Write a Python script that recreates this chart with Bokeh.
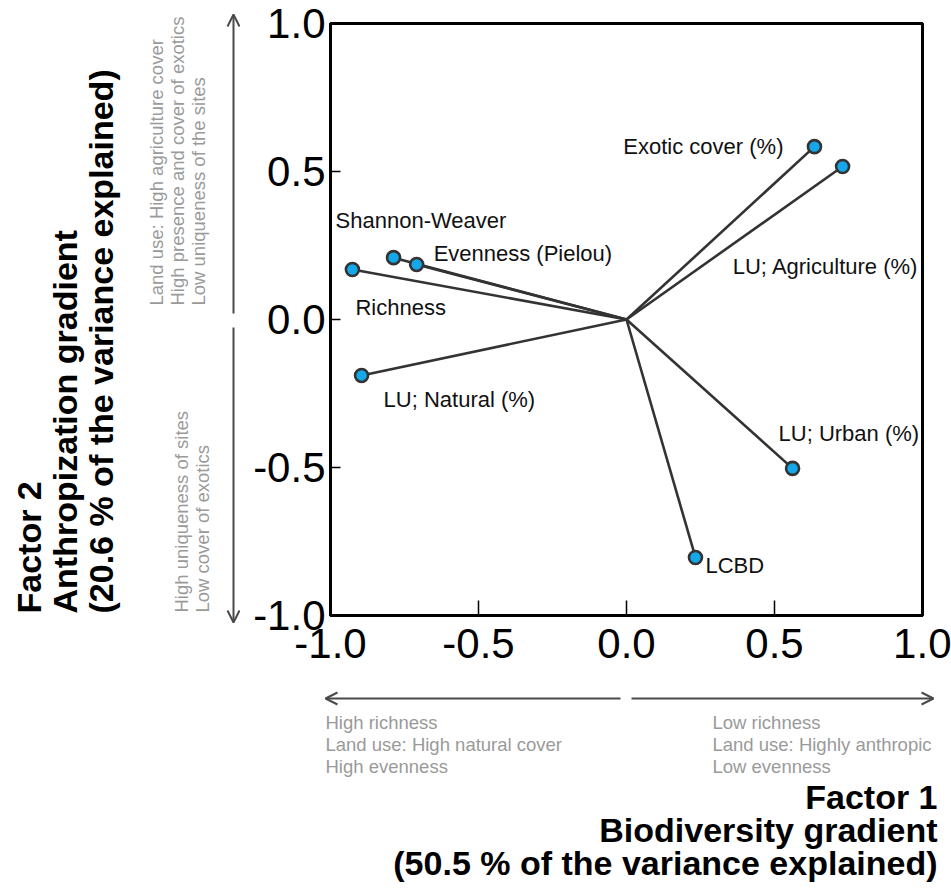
import math
from bokeh.plotting import figure
from bokeh.layouts import column, row
from bokeh.models import (ColumnDataSource, Arrow, OpenHead, FixedTicker,
                          CustomJSTickFormatter, Range1d)
from bokeh.core.properties import value
from bokeh.embed import file_html
from bokeh.resources import INLINE

# ---------------- data ----------------
variables = ["Exotic cover (%)", "LU; Agriculture (%)", "LU; Urban (%)", "LCBD",
             "LU; Natural (%)", "Richness", "Shannon-Weaver", "Evenness (Pielou)"]
factor1 = [0.635, 0.730, 0.561, 0.233, -0.895, -0.926, -0.787, -0.709]
factor2 = [0.584, 0.517, -0.503, -0.804, -0.189, 0.169, 0.209, 0.186]
ticks = [-1.0, -0.5, 0.0, 0.5, 1.0]

x_title = ["Factor 1", "Biodiversity gradient", "(50.5 % of the variance explained)"]
y_title = ["Factor 2", "Anthropization gradient", "(20.6 % of the variance explained)"]
x_neg_notes = ["High richness", "Land use: High natural cover", "High evenness"]
x_pos_notes = ["Low richness", "Land use: Highly anthropic", "Low evenness"]
y_pos_notes = ["Land use: High agriculture cover", "High presence and cover of exotics",
               "Low uniqueness of the sites"]
y_neg_notes = ["High uniqueness of sites", "Low cover of exotics"]

# label placement (pixel offsets from each point) and alignment
lab_dx = [-31, 76, -14, 10, 22, 3, -58, 17]
lab_dy = [0, 100, -35, 8, 24, 38, -37, -11]
lab_align = ["right", "right", "left", "left", "left", "left", "left", "left"]

FONT = "Liberation Sans"
W, H = 951, 888
LW = 240                 # width of the left annotation panel
ML, MR, MT, MB = 90, 29, 23, 60
FRAME = 592
MW, MH = ML + FRAME + MR, MT + FRAME + MB
BH = H - MH              # height of the bottom annotation panel

DARK = "#333333"
GREY = "#9a9a9a"
ARROW = "#4a4a4a"
NOTE_SIZE = "18.5px"
TITLE_SIZE = "34px"


def no_align(f):
    if "frame_align" in f.properties():
        f.frame_align = False
    return f


def blank(w, h):
    f = figure(width=w, height=h, output_backend="svg", toolbar_location=None,
               x_range=Range1d(0, w), y_range=Range1d(0, h),
               x_axis_type=None, y_axis_type=None,
               min_border_left=0, min_border_right=0, min_border_top=0, min_border_bottom=0)
    f.grid.visible = False
    f.outline_line_color = None
    f.background_fill_color = "white"
    f.border_fill_color = "white"
    return no_align(f)


# ---------------- main biplot ----------------
p = figure(width=MW, height=MH, output_backend="svg", toolbar_location=None,
           x_range=Range1d(-1, 1), y_range=Range1d(-1, 1),
           min_border_left=ML, min_border_right=MR, min_border_top=MT, min_border_bottom=MB)
no_align(p)
p.grid.visible = False
p.background_fill_color = "white"
p.border_fill_color = "white"
p.outline_line_color = "black"
p.outline_line_width = 3

fmt = CustomJSTickFormatter(code="return tick.toFixed(1);")
for ax, tin in ((p.xaxis[0], 15), (p.yaxis[0], 10)):
    ax.ticker = FixedTicker(ticks=ticks)
    ax.formatter = fmt
    ax.major_tick_in = tin
    ax.major_tick_out = 0
    ax.minor_tick_line_color = None
    ax.axis_line_width = 3
    ax.major_tick_line_width = 1.5
    ax.major_label_text_font = FONT
    ax.major_label_text_font_size = "42px"
    ax.major_label_text_color = "black"
p.xaxis.major_label_standoff = 13
p.yaxis.major_label_standoff = 5

src = ColumnDataSource(dict(x0=[0.0] * len(factor1), y0=[0.0] * len(factor1),
                            x=factor1, y=factor2, name=variables,
                            dx=lab_dx, dy=lab_dy, align=lab_align))
p.segment(x0="x0", y0="y0", x1="x", y1="y", source=src, line_color=DARK, line_width=2.6)
p.scatter(x="x", y="y", source=src, size=13, fill_color="#14A8EA",
          line_color=DARK, line_width=2.6)
p.text(x="x", y="y", text="name", source=src, x_offset="dx", y_offset="dy",
       text_align="align", text_baseline="middle", text_font=value(FONT),
       text_font_size="22px", text_color="#111111")

# ---------------- left panel (factor 2 annotation) ----------------
lp = blank(LW, MH)


def ly(py):
    return MH - py


head = dict(size=12, line_color=ARROW, line_width=2)
lp.add_layout(Arrow(end=OpenHead(**head), x_start=233, y_start=ly(313),
                    x_end=233, y_end=ly(14), line_color=ARROW, line_width=2))
lp.add_layout(Arrow(end=OpenHead(**head), x_start=233, y_start=ly(327),
                    x_end=233, y_end=ly(622), line_color=ARROW, line_width=2))

n = len(y_pos_notes)
lp.text(x=[156 + 21 * i for i in range(n)], y=[ly(305)] * n, text=y_pos_notes,
        angle=math.pi / 2, text_align="left", text_baseline="middle",
        text_font=value(FONT), text_font_size=NOTE_SIZE, text_color=GREY)
n = len(y_neg_notes)
lp.text(x=[181 + 21 * i for i in range(n)], y=[ly(612)] * n, text=y_neg_notes,
        angle=math.pi / 2, text_align="left", text_baseline="middle",
        text_font=value(FONT), text_font_size=NOTE_SIZE, text_color=GREY)
n = len(y_title)
lp.text(x=[28 + 36 * i for i in range(n)], y=[ly(613)] * n, text=y_title,
        angle=math.pi / 2, text_align="left", text_baseline="middle",
        text_font=value(FONT), text_font_size=TITLE_SIZE, text_font_style="bold",
        text_color="black")

# ---------------- bottom panel (factor 1 annotation) ----------------
bp = blank(W, BH)


def by(py):
    return H - py


bp.add_layout(Arrow(end=OpenHead(**head), x_start=620, y_start=by(698),
                    x_end=325, y_end=by(698), line_color=ARROW, line_width=2))
bp.add_layout(Arrow(end=OpenHead(**head), x_start=631, y_start=by(698),
                    x_end=933, y_end=by(698), line_color=ARROW, line_width=2))
n = len(x_neg_notes)
bp.text(x=[325] * n, y=[by(722 + 22 * i) for i in range(n)], text=x_neg_notes,
        text_align="left", text_baseline="middle",
        text_font=value(FONT), text_font_size=NOTE_SIZE, text_color=GREY)
bp.text(x=[712] * n, y=[by(722 + 22 * i) for i in range(n)], text=x_pos_notes,
        text_align="left", text_baseline="middle",
        text_font=value(FONT), text_font_size=NOTE_SIZE, text_color=GREY)
n = len(x_title)
bp.text(x=[937] * n, y=[by(796 + 33 * i) for i in range(n)], text=x_title,
        text_align="right", text_baseline="middle",
        text_font=value(FONT), text_font_size=TITLE_SIZE, text_font_style="bold",
        text_color="black")

layout = column(row(lp, p, spacing=0), bp, spacing=0)
open("out.html", "w").write(file_html(layout, INLINE))
